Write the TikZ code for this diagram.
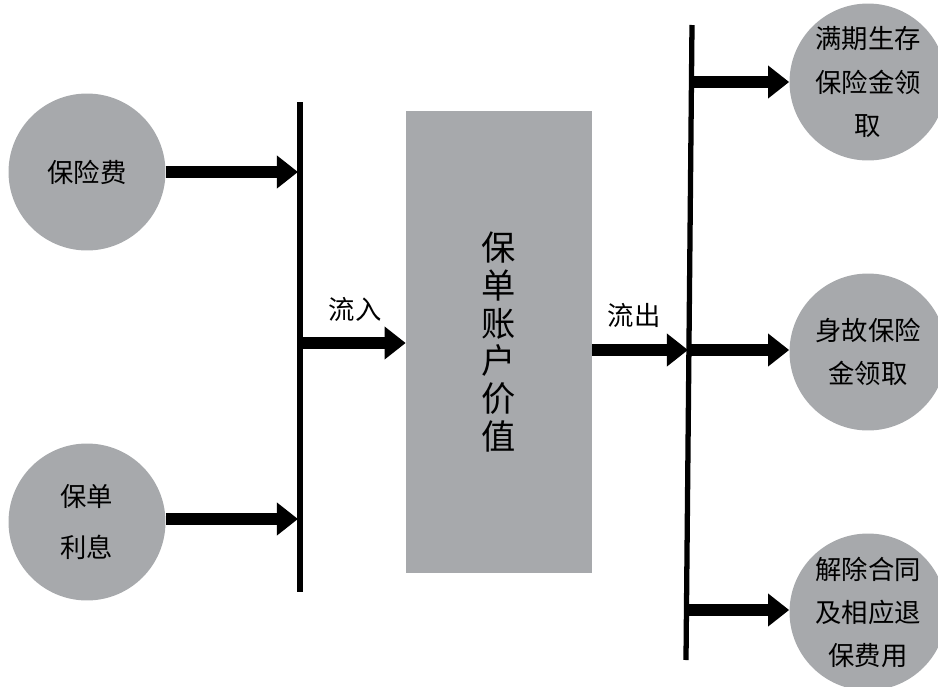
\documentclass[tikz,border=0pt]{standalone}
\usepackage{fontspec}
\setmainfont{Noto Sans CJK SC}
\usepackage{xcolor}
\usetikzlibrary{arrows.meta,positioning}
\definecolor{cgray}{HTML}{A7A9AC}

\begin{document}
\begin{tikzpicture}[x=0.02cm,y=-0.02cm,
            every node/.append style = {font=\fontsize{15}{24.5}\selectfont, align=center},
            pool/.style = {circle, fill=cgray, inner sep=0pt, minimum size=3.14cm},
            flow/.style = {line width=6.5pt, -{Triangle[length=12pt,width=18pt]}},
            bar/.style = {line width=3pt}]
        \useasboundingbox (0,0) rectangle (938,687);
        % left side
        \node[pool] (nfee) at (87,172) {保险费};
        \node[pool, font=\fontsize{15}{29}\selectfont] (nint) at (87,522) {保单\\利息};
        \coordinate (lt) at (300,102);
        \coordinate (lb) at (300,592);
        \draw[bar] (lt) -- (lb);
        \coordinate (lfee) at (298,172);
        \coordinate (lint) at (298,519);
        \draw[flow] (nfee) -- (lfee);
        \draw[flow] (nint.east |- lint) -- (lint);
        % account
        \node[fill=cgray, minimum width=3.72cm, minimum height=9.24cm,
              font=\fontsize{19.5}{21.5}\selectfont] (nacct) at (499,342)
              {保\\单\\账\\户\\价\\值};
        \coordinate (lin) at (300,343);
        \draw[flow] (lin) -- (nacct.west |- lin);
        \node (nin) at (355,309) {流入};
        % right side
        \coordinate (rt) at (692,25);
        \coordinate (rb) at (686,660);
        \draw[bar] (rt) -- (rb);
        \coordinate (rout) at (688,350);
        \draw[flow] (nacct.east |- rout) -- (rout);
        \node (nout) at (634,315) {流出};
        \node[pool] (nmat) at (868,82) {满期生存\\保险金领\\取};
        \node[pool] (ndth) at (868,352) {身故保险\\金领取};
        \node[pool] (nsur) at (868,612) {解除合同\\及相应退\\保费用};
        \coordinate (rmat) at (692,82);
        \coordinate (rdth) at (689,350);
        \coordinate (rsur) at (687,610);
        \draw[flow] (rmat) -- (nmat.west |- rmat);
        \draw[flow] (rdth) -- (ndth.west |- rdth);
        \draw[flow] (rsur) -- (nsur.west |- rsur);
\end{tikzpicture}
\end{document}
